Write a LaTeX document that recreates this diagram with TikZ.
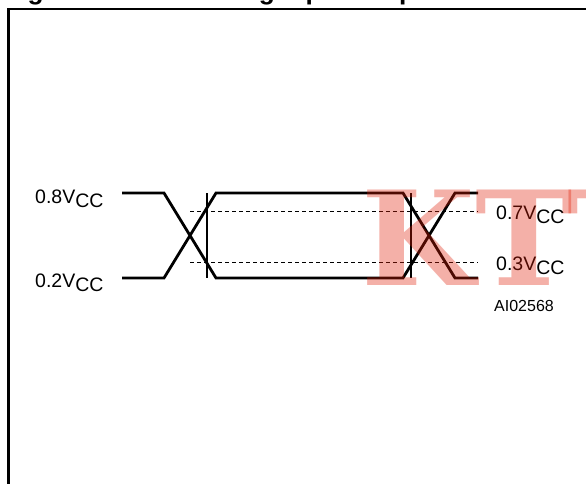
\documentclass[tikz,border=0pt]{standalone}
\usepackage{fontspec}
\setmainfont{Liberation Sans}
\newfontfamily\wmfont{DejaVu Serif}
\definecolor{wmred}{RGB}{223,29,6}
\begin{document}
\begin{tikzpicture}[x=1pt,y=-1pt,
  wave/.style={line width=2.8pt},
  marker/.style={line width=1.1pt},
  level/.style={line width=0.9pt, dash pattern=on 4pt off 3pt},
  lbl/.style={anchor=base west, inner sep=0pt, font=\fontsize{19.5}{21}\selectfont},
  code/.style={anchor=base west, inner sep=0pt, font=\fontsize{16}{18}\selectfont},
  wm/.style={anchor=base west, inner sep=0pt, text=wmred, opacity=0.35,
    font=\wmfont\bfseries\fontsize{131}{140}\selectfont}]
\useasboundingbox (0,0) rectangle (586,483);
\begin{scope}
\clip (0,0) rectangle (586,483);
\node[anchor=base west, inner sep=0pt, font=\bfseries\fontsize{26.3}{30}\selectfont] (title) at (4,-0.5) {Figure 10. AC Testing Input Output Waveforms};
\draw[line width=2.5pt] (8.5,490) -- (8.5,9) -- (595,9);

% waveform points
\coordinate (a1) at (122,193); \coordinate (a2) at (164,193);
\coordinate (a3) at (216,278); \coordinate (a4) at (403,278);
\coordinate (a5) at (455,193); \coordinate (a6) at (478,193);
\coordinate (b1) at (122,278); \coordinate (b2) at (164,278);
\coordinate (b3) at (216,193); \coordinate (b4) at (403,193);
\coordinate (b5) at (455,278); \coordinate (b6) at (478,278);
\draw[wave] (a1) -- (a2) -- (a3) -- (a4) -- (a5) -- (a6);
\draw[wave] (b1) -- (b2) -- (b3) -- (b4) -- (b5) -- (b6);

\coordinate (m1t) at (207,193); \coordinate (m1b) at (207,278);
\coordinate (m2t) at (411,193); \coordinate (m2b) at (411,278);
\draw[marker] (m1t) -- (m1b);
\draw[marker] (m2t) -- (m2b);

\coordinate (h1) at (190,211); \coordinate (h2) at (478,211);
\coordinate (l1) at (190,262); \coordinate (l2) at (478,262);
\draw[level] (h1) -- (h2);
\draw[level] (l1) -- (l2);

\node[lbl] (v08) at (35,203) {0.8V\raisebox{-0.25em}{CC}};
\node[lbl] (v02) at (35,287) {0.2V\raisebox{-0.25em}{CC}};
\node[lbl] (v07) at (496,219) {0.7V\raisebox{-0.25em}{CC}};
\node[lbl] (v03) at (496,270) {0.3V\raisebox{-0.25em}{CC}};
\node[code] (ai) at (494,311) {AI02568};

\node[wm] (mark) at (361,285) {KTT};
\end{scope}
\end{tikzpicture}
\end{document}
